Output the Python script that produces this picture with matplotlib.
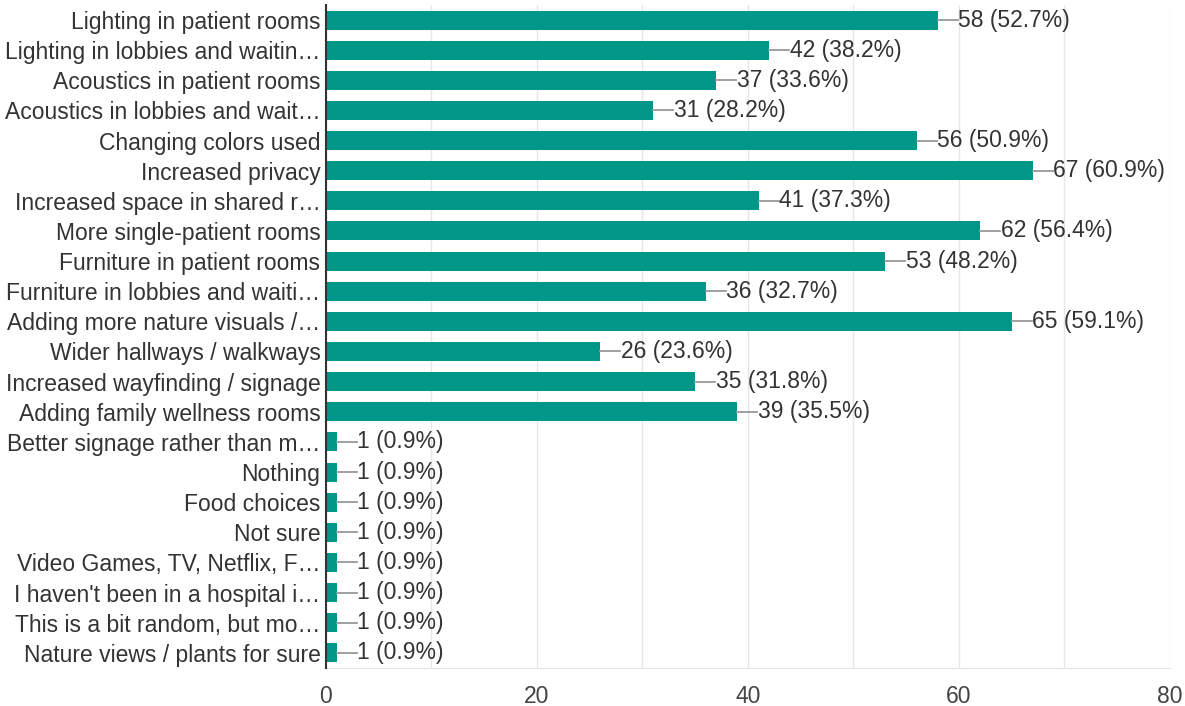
import matplotlib.pyplot as plt

plt.rcParams['font.family'] = ['Liberation Sans', 'DejaVu Sans']

labels = [
    "Lighting in patient rooms",
    "Lighting in lobbies and waitin\u2026",
    "Acoustics in patient rooms",
    "Acoustics in lobbies and wait\u2026",
    "Changing colors used",
    "Increased privacy",
    "Increased space in shared r\u2026",
    "More single-patient rooms",
    "Furniture in patient rooms",
    "Furniture in lobbies and waiti\u2026",
    "Adding more nature visuals /\u2026",
    "Wider hallways / walkways",
    "Increased wayfinding / signage",
    "Adding family wellness rooms",
    "Better signage rather than m\u2026",
    "Nothing",
    "Food choices",
    "Not sure",
    "Video Games, TV, Netflix, F\u2026",
    "I haven't been in a hospital i\u2026",
    "This is a bit random, but mo\u2026",
    "Nature views / plants for sure",
]
counts = [58, 42, 37, 31, 56, 67, 41, 62, 53, 36, 65, 26, 35, 39,
          1, 1, 1, 1, 1, 1, 1, 1]
percents = [52.7, 38.2, 33.6, 28.2, 50.9, 60.9, 37.3, 56.4, 48.2, 32.7, 59.1,
            23.6, 31.8, 35.5, 0.9, 0.9, 0.9, 0.9, 0.9, 0.9, 0.9, 0.9]
ticks = [0, 20, 40, 60, 80]

fig = plt.figure(figsize=(11.85, 7.06), dpi=100)
ax = fig.add_axes([0.2751, 0.054, 0.7122, 0.939])

pos = list(range(len(labels)))
ax.barh(pos, counts, height=0.63, color='#009688', zorder=3)

for y, c, p in zip(pos, counts, percents):
    ax.plot([c, c + 1.9], [y, y], color='#999999', lw=1.3, zorder=3)
    ax.text(c + 1.95, y, f"{c} ({p}%)", va='center', ha='left',
            fontsize=16.5, color='#333333')

ax.set_xlim(0, 80)
ax.set_ylim(len(labels) - 0.5, -0.5)
ax.set_xticks(ticks)
ax.set_xticks(range(0, 81, 10), minor=True)
ax.set_yticks(pos)
ax.set_yticklabels(labels, fontsize=16.5, color='#333333')
ax.tick_params(axis='x', labelsize=16.5, labelcolor='#444444', length=0, pad=12)
ax.tick_params(axis='x', which='minor', length=0)
ax.tick_params(axis='y', length=0, pad=4)
ax.grid(axis='x', which='both', color='#e6e6e6', lw=1, zorder=0)

for s in ['top', 'right']:
    ax.spines[s].set_visible(False)
ax.spines['bottom'].set_color('#e6e6e6')
ax.spines['left'].set_color('#333333')
ax.spines['left'].set_linewidth(1.5)
ax.spines['left'].set_zorder(4)

fig.savefig('out.png', dpi=100)
